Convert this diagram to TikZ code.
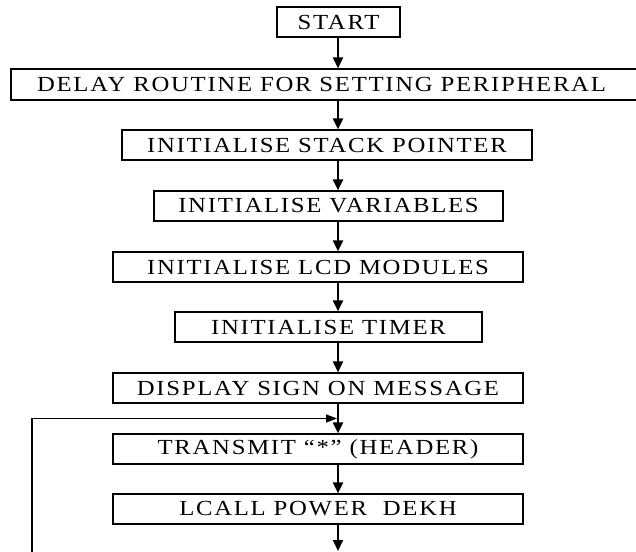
\documentclass[tikz,border=0pt]{standalone}
\usepackage{fontspec}
\setmainfont{Liberation Serif}[LetterSpace=8,FakeStretch=1.15]
\usetikzlibrary{arrows.meta}
\begin{document}
\begin{tikzpicture}[x=1pt,y=-1pt,
  box/.style={draw, line width=1.2pt, inner sep=0pt, minimum height=30pt,
              font=\fontsize{21.5}{26}\selectfont},
  flow/.style={line width=2pt, -{Triangle[width=10pt,length=11pt]}},
  back/.style={line width=1.3pt, -{Triangle[width=8pt,length=11pt]}}]
\useasboundingbox (0,0) rectangle (636,551);
\clip (0,0) rectangle (636,551);
\node[box, minimum width=123pt] (start) at (338.5,22) {START};
\node[box, minimum width=649pt, minimum height=31pt] (delay) at (335.5,84.5) {DELAY ROUTINE FOR SETTING PERIPHERAL\hspace*{28pt}};
\node[box, minimum width=410pt] (stack) at (327,145) {INITIALISE STACK POINTER};
\node[box, minimum width=349pt] (vars) at (328.5,206) {INITIALISE VARIABLES};
\node[box, minimum width=410pt] (lcd) at (318,267) {INITIALISE LCD MODULES};
\node[box, minimum width=307pt] (timer) at (328.5,327) {INITIALISE TIMER};
\node[box, minimum width=410pt] (disp) at (318,388) {DISPLAY SIGN ON MESSAGE};
\node[box, minimum width=410pt] (trans) at (318,449) {TRANSMIT “*” (HEADER)};
\node[box, minimum width=410pt] (lcall) at (318,509) {LCALL POWER\ \ DEKH};
\coordinate (ax) at (338,0);
\coordinate (endpt) at (338,551);
\coordinate (fb) at (32,560);
\coordinate (join) at (337,418.5);
\draw[flow] (start.south -| ax) -- (delay.north -| ax);
\draw[flow] (delay.south -| ax) -- (stack.north -| ax);
\draw[flow] (stack.south -| ax) -- (vars.north -| ax);
\draw[flow] (vars.south -| ax) -- (lcd.north -| ax);
\draw[flow] (lcd.south -| ax) -- (timer.north -| ax);
\draw[flow] (timer.south -| ax) -- (disp.north -| ax);
\draw[flow] (disp.south -| ax) -- (trans.north -| ax);
\draw[flow] (trans.south -| ax) -- (lcall.north -| ax);
\draw[flow] (lcall.south -| ax) -- (endpt);
\draw[back] (fb) |- (join);
\end{tikzpicture}
\end{document}
